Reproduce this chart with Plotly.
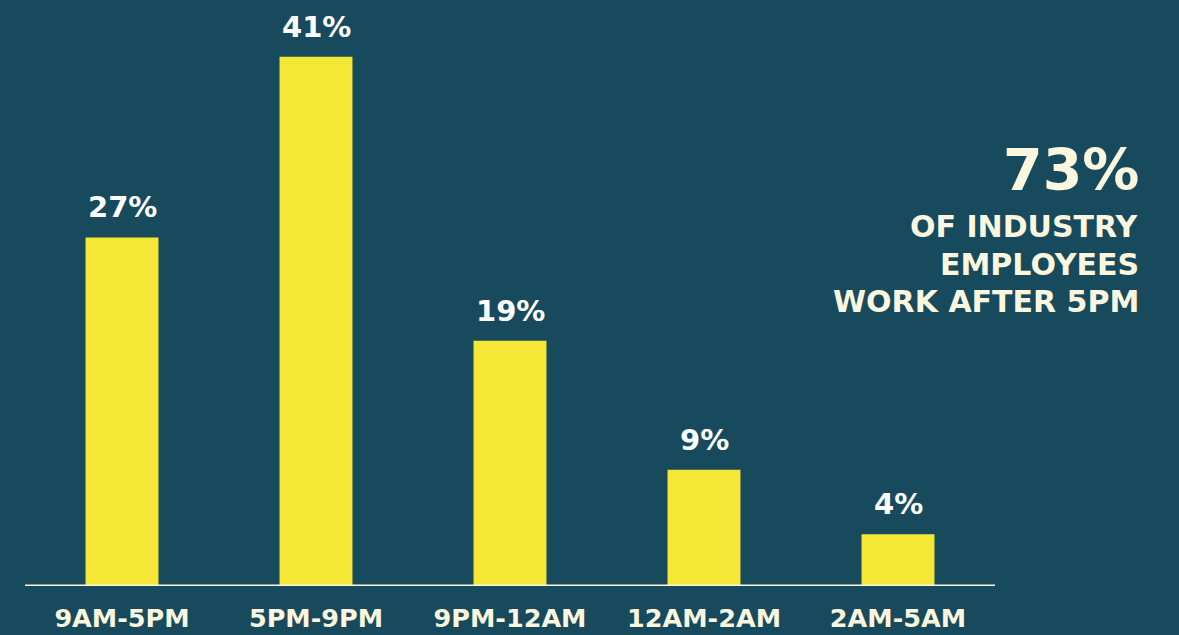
import plotly.graph_objects as go

categories = ["9AM-5PM", "5PM-9PM", "9PM-12AM", "12AM-2AM", "2AM-5AM"]
values = [27, 41, 19, 9, 4]
value_labels = ["27%", "41%", "19%", "9%", "4%"]

BG = "#184a5e"
YELLOW = "#f4e736"
CREAM = "#fbf7df"
FONT = "DejaVu Sans"

fig = go.Figure()
fig.add_trace(go.Bar(
    x=categories, y=values,
    marker=dict(color=YELLOW, line=dict(width=0)),
    hoverinfo="skip",
))

for c, v, t in zip(categories, values, value_labels):
    fig.add_annotation(
        x=c, y=v, text=t, showarrow=False, xref="x", yref="y",
        yanchor="bottom", yshift=11,
        font=dict(family=FONT, size=29, color="#ffffff", weight="bold"),
    )

fig.add_shape(type="line", xref="paper", yref="y", x0=0, x1=1, y0=0, y1=0,
              line=dict(color=CREAM, width=3))

fig.add_annotation(
    xref="paper", yref="paper", x=(1141 - 25) / 970, y=(586 - 170) / 580.5,
    text="73%", showarrow=False, xanchor="right", yanchor="middle",
    font=dict(family=FONT, size=57, color=CREAM, weight="bold"),
)
for i, line in enumerate(["OF INDUSTRY", "EMPLOYEES", "WORK AFTER 5PM"]):
    fig.add_annotation(
        xref="paper", yref="paper", x=(1141 - 25) / 970,
        y=(586 - (227 + 37.5 * i)) / 580.5,
        text=line, showarrow=False, xanchor="right", yanchor="middle",
        font=dict(family=FONT, size=30, color=CREAM, weight="bold"),
    )

fig.update_layout(
    width=1179, height=635,
    paper_bgcolor=BG, plot_bgcolor=BG,
    margin=dict(l=25, r=184, t=5, b=49),
    bargap=0.624,
    showlegend=False,
    xaxis=dict(showgrid=False, showline=False, zeroline=False, ticks="",
               tickfont=dict(family=FONT, size=25.5, color=CREAM, weight="bold"),
               ticklabelstandoff=14, automargin=False, fixedrange=True),
    yaxis=dict(range=[0, 45], visible=False, showgrid=False, zeroline=False,
               automargin=False, fixedrange=True),
)

fig.write_html("out.html", config={"displayModeBar": False},
               post_script="document.body.style.margin='0';")
